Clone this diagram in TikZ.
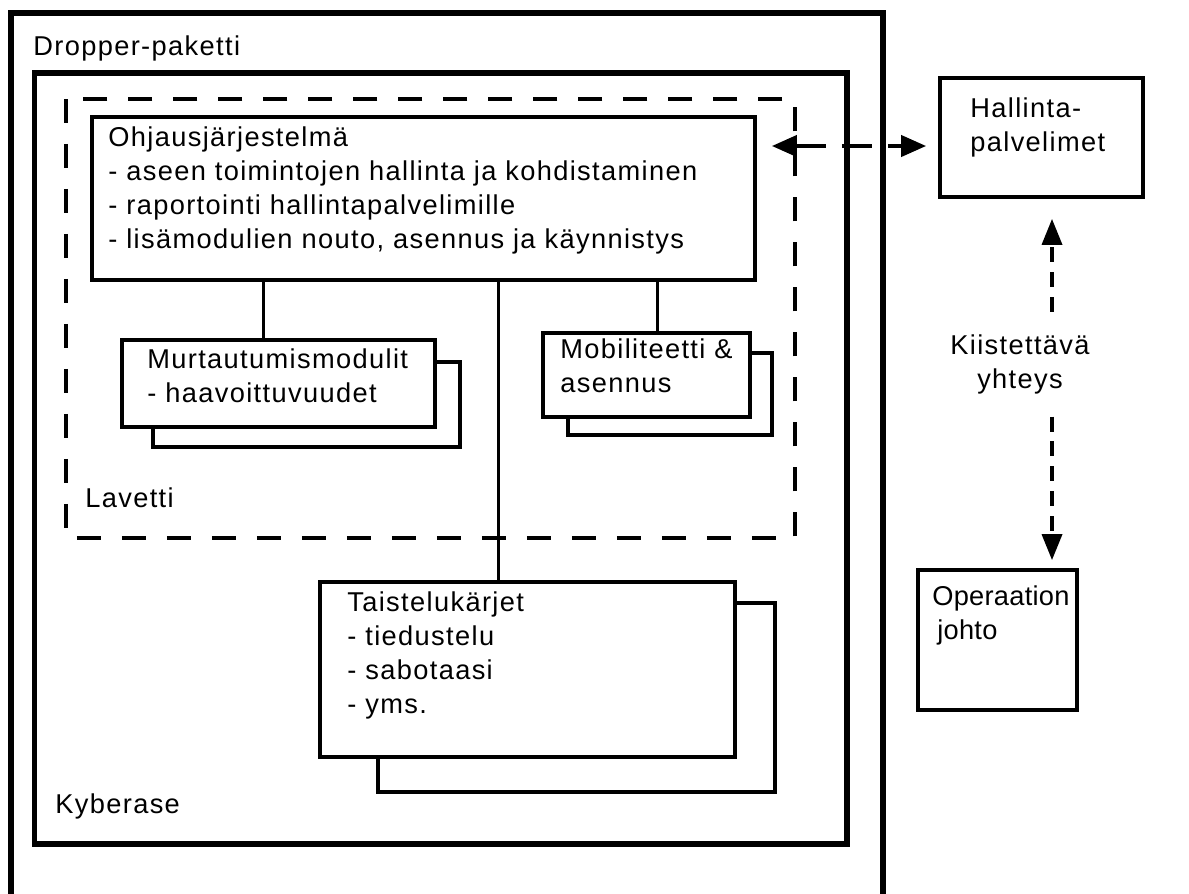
\documentclass[tikz,border=0pt]{standalone}
\usepackage{fontspec}
\setmainfont{Liberation Sans}[LetterSpace=5]
\usetikzlibrary{arrows.meta,fit}

\begin{document}
\begin{tikzpicture}[x=0.02cm, y=-0.02cm,
	every node/.style={font=\fontsize{15.5}{19.3}\selectfont, inner sep=0pt},
	frame/.style={line width=0.12cm},
	box/.style={draw, line width=0.075cm, inner sep=0pt},
	backbox/.style={line width=0.075cm},
	link/.style={line width=0.06cm},
	txt/.style={anchor=base west, align=left},
	hlink/.style={line width=0.08cm, dash pattern=on 0.6cm off 0.32cm, {Triangle[length=0.5cm, width=0.42cm]}-{Triangle[length=0.5cm, width=0.42cm]}},
	vlink/.style={line width=0.07cm, dash pattern=on 0.3cm off 0.2cm, -{Triangle[length=0.52cm, width=0.4cm]}}]
	\useasboundingbox (0,0) rectangle (1189,893);
	\clip (0,0) rectangle (1189,893);
	% frames
	\draw[frame] (11,920) -- (11,12.5) -- (883,12.5) -- (883,920);
	\draw[frame] (34.5,73) rectangle (847,844);
	\draw[line width=0.08cm, dash pattern=on 0.48cm off 0.42cm] (66,99) rectangle (795,538);
	\node[txt] (dropper) at (33,55) {Dropper-paketti};
	\node[txt] (kyber) at (55,813) {Kyberase};
	\node[txt] (lavetti) at (85,507) {Lavetti};
	% boxes (text nodes sit on their last baseline)
	\node[box, fit={(92,117) (755,280)}] (ohj) {};
	\node[txt] at (108,248) {Ohjausjärjestelmä\\- aseen toimintojen hallinta ja kohdistaminen\\- raportointi hallintapalvelimille\\- lisämodulien nouto, asennus ja käynnistys};
	\draw[backbox] (435,362) -- (460,362) -- (460,447) -- (153,447) -- (153,427);
	\node[box, fill=white, fit={(122,340) (435,427)}] (mur) {};
	\node[txt] at (147,402) {Murtautumismodulit\\- haavoittuvuudet};
	\draw[backbox] (750,353) -- (772,353) -- (772,435) -- (568,435) -- (568,417);
	\node[box, fill=white, fit={(543,333) (750,417)}] (mob) {};
	\node[txt] at (560,392) {Mobiliteetti \&\\asennus};
	\draw[backbox] (735,603) -- (775,603) -- (775,792) -- (378,792) -- (378,757);
	\node[box, fill=white, fit={(320,582) (735,757)}] (taist) {};
	\node[txt] at (347,713) {Taistelukärjet\\- tiedustelu\\- sabotaasi\\- yms.};
	\node[box, fit={(940,78) (1143,197)}] (hal) {};
	\node[txt] at (970,151) {Hallinta-\\palvelimet};
	\node[box, fit={(918,570) (1077,710)}] (ope) {};
	\node[txt, font=\fontsize{15.5}{19.3}\selectfont\addfontfeatures{LetterSpace=1}] at (932,639) {Operaation\\\hspace*{0.1cm}johto};
	\node[align=center, inner ysep=0.45cm] (kii) at (1020,364) {Kiistettävä\\yhteys};
	% connectors
	\draw[link] (ohj.south -| 263,0) -- (mur.north -| 263,0);
	\draw[link] (ohj.south -| 498,0) -- (taist.north -| 498,0);
	\draw[link] (ohj.south -| 657,0) -- (mob.north -| 657,0);
	\coordinate (mid) at (850,146);
	\coordinate (ax) at (1052,0);
	\draw[hlink, shorten <=0.3cm, shorten >=0.24cm] (ohj.east |- mid) -- (hal.west |- mid);
	\draw[vlink, shorten >=0.4cm] (kii.north -| ax) -- (hal.south -| ax);
	\draw[vlink, shorten >=0.16cm] (kii.south -| ax) -- (ope.north -| ax);
\end{tikzpicture}
\end{document}
